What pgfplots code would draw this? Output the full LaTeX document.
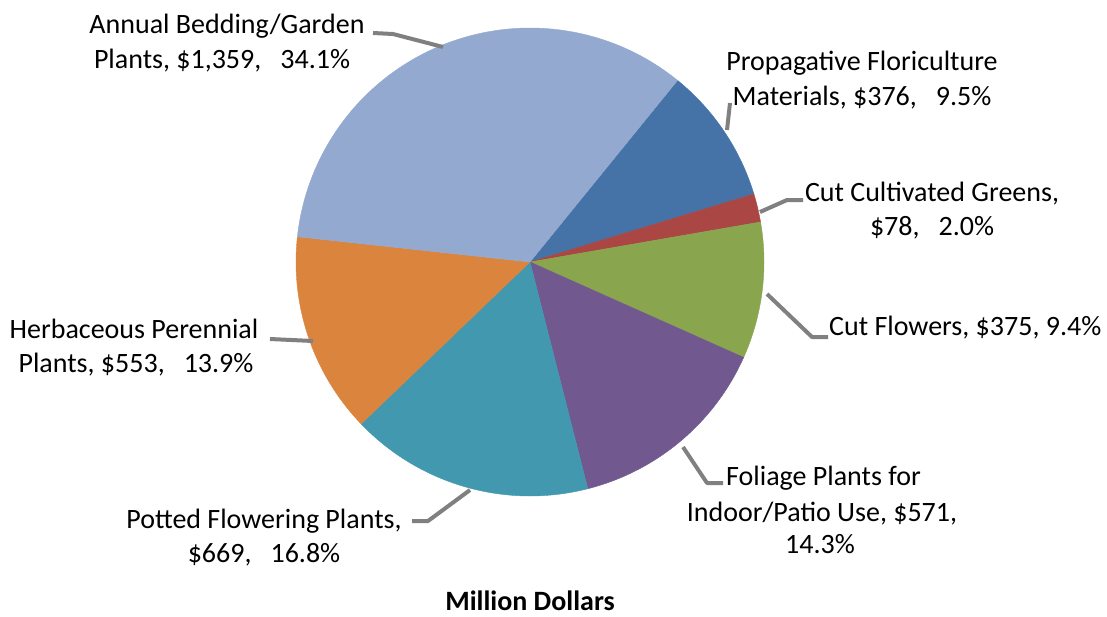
\documentclass[border=0pt]{standalone}
\usepackage{pgfplots}
\pgfplotsset{compat=1.18}
\usepackage{fontspec}
\setmainfont{Carlito}
\definecolor{cProp}{HTML}{4572A7}
\definecolor{cGreens}{HTML}{AA4643}
\definecolor{cFlow}{HTML}{89A54E}
\definecolor{cFol}{HTML}{71588F}
\definecolor{cPot}{HTML}{4198AF}
\definecolor{cHerb}{HTML}{DB843D}
\definecolor{cAnn}{HTML}{93A9CF}
\definecolor{leader}{HTML}{808080}
\newcommand\lf{\fontsize{28}{35}\selectfont}
% pie geometry (image pixel coordinates, y downward)
\def\piestart{39.1}
\def\pietotal{3981}
\gdef\piecum{0}
\newcommand\pieslice[2]{%
  \pgfmathsetmacro\pa{\piestart+\piecum/\pietotal*360}%
  \pgfmathsetmacro\newcum{\piecum+#1}%
  \pgfmathsetmacro\pb{\piestart+\newcum/\pietotal*360}%
  \xdef\piecum{\newcum}%
  \edef\temp{\noexpand\addplot[fill=#2, draw=#2, line width=0.4pt, domain=\pa:\pb, samples=90]
    ({530+234*sin(x)},{262-234*cos(x)}) -- (axis cs:530,262) -- cycle;}%
  \temp}
\tikzset{lab/.style={inner sep=0pt, anchor=base}}
\begin{document}
\begin{tikzpicture}
\begin{axis}[
  x=1pt, y=1pt, y dir=reverse,
  xmin=0, xmax=1107, ymin=0, ymax=616,
  hide axis, clip=false,
]
\path (axis cs:0,0) (axis cs:1107,616);
% values in million dollars, clockwise from the Annual/Propagative boundary
\pieslice{376}{cProp}
\pieslice{78}{cGreens}
\pieslice{375}{cFlow}
\pieslice{571}{cFol}
\pieslice{669}{cPot}
\pieslice{553}{cHerb}
\pieslice{1359}{cAnn}
% leader lines
\begin{scope}[draw=leader, line width=4pt, line join=round]
\draw (axis cs:373,33) -- (axis cs:393,34) -- (axis cs:443,47);
\draw (axis cs:730,103) -- (axis cs:727,130);
\draw (axis cs:803,200) -- (axis cs:787,200) -- (axis cs:760,212);
\draw (axis cs:767,294) -- (axis cs:812,337) -- (axis cs:828,337);
\draw (axis cs:270,339) -- (axis cs:313,341);
\draw (axis cs:412,521) -- (axis cs:428,521) -- (axis cs:470,490);
\draw (axis cs:683,447) -- (axis cs:707,483) -- (axis cs:723,483);
\end{scope}
% labels
\node[lab] at (axis cs:227,33) {\lf Annual Bedding/Garden};
\node[lab] at (axis cs:222,68) {\lf Plants, \$1,359,~~~34.1\%};
\node[lab] at (axis cs:862,70) {\lf Propagative Floriculture};
\node[lab] at (axis cs:862,105) {\lf Materials, \$376,~~~9.5\%};
\node[lab] at (axis cs:932,201) {\lf Cut Cultivated Greens,};
\node[lab] at (axis cs:932,235) {\lf \$78,~~~2.0\%};
\node[lab, anchor=base west] at (axis cs:829,335) {\lf Cut Flowers, \$375, 9.4\%};
\node[lab] at (axis cs:134,338) {\lf Herbaceous Perennial};
\node[lab] at (axis cs:136,372) {\lf Plants, \$553,~~~13.9\%};
\node[lab] at (axis cs:264,528) {\lf Potted Flowering Plants,};
\node[lab] at (axis cs:264,562) {\lf \$669,~~~16.8\%};
\node[lab, anchor=base west] at (axis cs:726,485) {\lf Foliage Plants for};
\node[lab] at (axis cs:822,521) {\lf Indoor/Patio Use, \$571,};
\node[lab] at (axis cs:820,553) {\lf 14.3\%};
\node[lab] at (axis cs:530,610) {\lf\bfseries Million Dollars};
\end{axis}
\end{tikzpicture}
\end{document}
